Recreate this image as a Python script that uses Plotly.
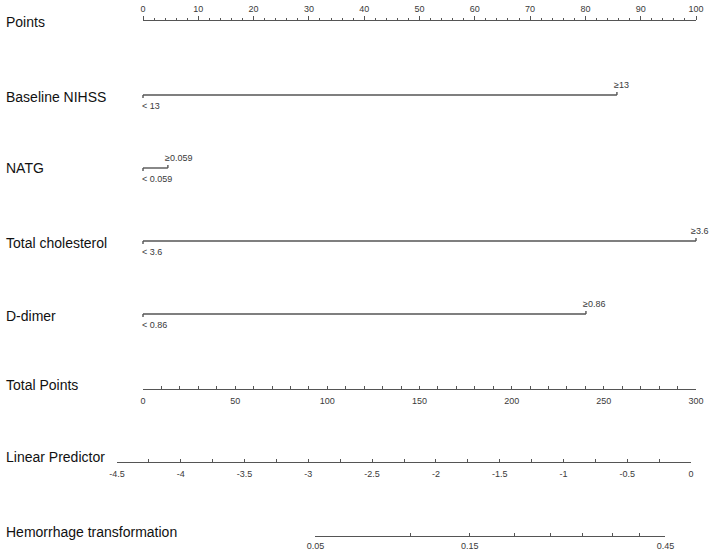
import math
import plotly.graph_objects as go

# ---------------- data ----------------
row_labels = ["Points", "Baseline NIHSS", "NATG", "Total cholesterol", "D-dimer",
              "Total Points", "Linear Predictor", "Hemorrhage transformation"]

points_ticks = list(range(0, 101, 10))
points_minor = 2

cat_vars = ["Baseline NIHSS", "NATG", "Total cholesterol", "D-dimer"]
cat_low_labels = ["< 13", "< 0.059", "< 3.6", "< 0.86"]
cat_high_labels = ["\u226513", "\u22650.059", "\u22653.6", "\u22650.86"]
cat_low_points = [0, 0, 0, 0]
cat_high_points = [85.7, 4.5, 100, 80.1]

total_points_ticks = [0, 50, 100, 150, 200, 250, 300]
total_points_minor = 10

lp_ticks = [-4.5, -4, -3.5, -3, -2.5, -2, -1.5, -1, -0.5, 0]
lp_tick_labels = ["-4.5", "-4", "-3.5", "-3", "-2.5", "-2", "-1.5", "-1", "-0.5", "0"]
lp_minor = 0.25

risk_probs = [0.05, 0.10, 0.15, 0.20, 0.25, 0.30, 0.35, 0.40, 0.45]
risk_labels = ["0.05", "", "0.15", "", "", "", "", "", "0.45"]

# ---------------- layout constants ----------------
W, H = 709, 551
row_y = [21, 95, 168, 241, 314, 389, 462, 536]          # pixel rows of scales
label_y = [22, 97, 168, 243, 316, 385, 457, 532]        # pixel rows of row titles
pts_px = (143, 696)      # Points axis extent
lp_px = (117, 691)       # Linear predictor axis extent

LINE = "#555555"
TXT = "#3a3a3a"
FONT = "Arial, Liberation Sans, sans-serif"
TICKFONT = dict(family=FONT, size=9, color=TXT)
EPS = 0.004


def pos(ypx):
    return 1 - ypx / H


def logit(p):
    return math.log(p / (1 - p))


pts_dom = [pts_px[0] / W, pts_px[1] / W]
lp_dom = [lp_px[0] / W, lp_px[1] / W]
lp_lo, lp_hi = lp_ticks[0], lp_ticks[-1]


def lp_to_frac(v):
    return lp_dom[0] + (v - lp_lo) / (lp_hi - lp_lo) * (lp_dom[1] - lp_dom[0])


risk_lo, risk_hi = logit(risk_probs[0]), logit(risk_probs[-1])
risk_dom = [lp_to_frac(risk_lo), lp_to_frac(risk_hi)]

# full-width helper axis in "points" units for categorical rows
span = (points_ticks[-1] - points_ticks[0]) / (pts_dom[1] - pts_dom[0])
full_r0 = points_ticks[0] - pts_dom[0] * span
full_r1 = full_r0 + span

fig = go.Figure()


def ghost(xs, xa, ya):
    fig.add_trace(go.Scatter(x=xs, y=[0, 0], xaxis=xa, yaxis=ya, mode="lines",
                             line=dict(width=0), hoverinfo="skip", showlegend=False))


ghost([points_ticks[0], points_ticks[-1]], "x", "y")
ghost([total_points_ticks[0], total_points_ticks[-1]], "x2", "y2")
ghost([lp_lo, lp_hi], "x3", "y3")
ghost([risk_lo, risk_hi], "x4", "y4")

# Categorical rows on full-width axis x5 / y5
tick_h = 3
annotations = []
for i, var in enumerate(cat_vars):
    y = row_y[i + 1]
    lo, hi = cat_low_points[i], cat_high_points[i]
    fig.add_trace(go.Scatter(x=[lo, lo, None, lo, hi, None, hi, hi],
                             y=[y, y + tick_h, None, y, y, None, y, y - tick_h],
                             xaxis="x5", yaxis="y5", mode="lines",
                             line=dict(color=LINE, width=1.4),
                             hoverinfo="skip", showlegend=False))
    hi_shift = -7 if hi >= points_ticks[-1] else -5
    annotations.append(dict(x=hi, y=y - 10, xref="x5", yref="y5", text=cat_high_labels[i],
                            showarrow=False, xanchor="left", yanchor="middle", xshift=hi_shift,
                            font=TICKFONT))
    annotations.append(dict(x=lo, y=y + 11, xref="x5", yref="y5", text=cat_low_labels[i],
                            showarrow=False, xanchor="left", yanchor="middle", xshift=-3,
                            font=TICKFONT))

for lbl, ly in zip(row_labels, label_y):
    annotations.append(dict(x=4 / W, y=ly, xref="paper", yref="y5", text=lbl,
                            showarrow=False, xanchor="left", yanchor="middle",
                            font=dict(family=FONT, size=14, color="#111111")))

common_axis = dict(showline=True, linecolor=LINE, linewidth=1.2, showgrid=False,
                   zeroline=False, tickcolor=LINE, tickwidth=1, tickfont=TICKFONT,
                   fixedrange=True, automargin=False, tickmode="array")
hidden_y = dict(visible=False, fixedrange=True, range=[0, 1])

fig.update_layout(
    width=W, height=H, margin=dict(l=0, r=0, t=0, b=0, autoexpand=False),
    paper_bgcolor="white", plot_bgcolor="rgba(0,0,0,0)",
    showlegend=False,
    # Points (top labels, line at top of y domain)
    yaxis=dict(domain=[pos(row_y[0]) - EPS, pos(row_y[0])], **hidden_y),
    xaxis=dict(domain=pts_dom, range=[points_ticks[0], points_ticks[-1]], side="top",
               anchor="y", ticks="outside", ticklen=4,
               tickvals=points_ticks, ticktext=[str(v) for v in points_ticks],
               minor=dict(dtick=points_minor, tick0=0, ticks="outside", ticklen=2,
                          tickcolor=LINE),
               **common_axis),
    # Total points
    yaxis2=dict(domain=[pos(row_y[5]), pos(row_y[5]) + EPS], **hidden_y),
    xaxis2=dict(domain=pts_dom, range=[total_points_ticks[0], total_points_ticks[-1]],
                side="bottom", anchor="y2", ticks="inside", ticklen=3,
                tickvals=total_points_ticks, ticktext=[str(v) for v in total_points_ticks],
                minor=dict(dtick=total_points_minor, tick0=0, ticks="inside", ticklen=3,
                           tickcolor=LINE),
                ticklabelstandoff=3,
                **common_axis),
    # Linear predictor
    yaxis3=dict(domain=[pos(row_y[6]), pos(row_y[6]) + EPS], **hidden_y),
    xaxis3=dict(domain=lp_dom, range=[lp_lo, lp_hi], side="bottom", anchor="y3",
                ticks="inside", ticklen=3,
                tickvals=lp_ticks, ticktext=lp_tick_labels,
                minor=dict(dtick=lp_minor, tick0=lp_lo, ticks="inside", ticklen=3,
                           tickcolor=LINE),
                ticklabelstandoff=3,
                **common_axis),
    # Hemorrhage transformation risk
    yaxis4=dict(domain=[pos(row_y[7]), pos(row_y[7]) + EPS], **hidden_y),
    xaxis4=dict(domain=risk_dom, range=[risk_lo, risk_hi], side="bottom", anchor="y4",
                ticks="inside", ticklen=3,
                tickvals=[logit(p) for p in risk_probs], ticktext=risk_labels,
                ticklabelstandoff=1,
                **common_axis),
    # full-width helper
    yaxis5=dict(domain=[0, 1], range=[H, 0], visible=False, fixedrange=True),
    xaxis5=dict(domain=[0, 1], range=[full_r0, full_r1], visible=False,
                anchor="y5", fixedrange=True),
    annotations=annotations,
)

fig.write_html("out.html", config={"displayModeBar": False, "staticPlot": True},
               post_script="document.body.style.margin='0';document.body.style.overflow='hidden';")
